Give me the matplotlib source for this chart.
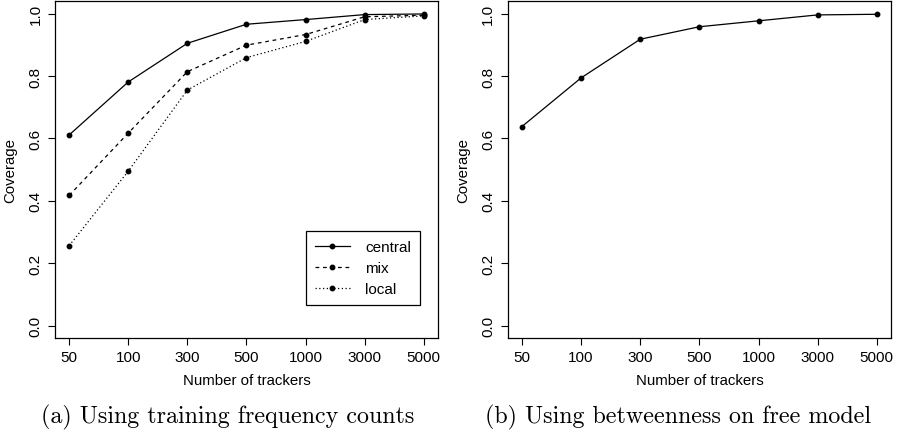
import matplotlib
matplotlib.use("Agg")
import matplotlib.pyplot as plt
import numpy as np

# values
trackers = ["50", "100", "300", "500", "1000", "3000", "5000"]
central = [0.611, 0.781, 0.905, 0.966, 0.981, 0.997, 0.999]
mix = [0.417, 0.617, 0.814, 0.899, 0.933, 0.990, 0.995]
local = [0.256, 0.495, 0.755, 0.859, 0.911, 0.981, 0.993]
betweenness = [0.638, 0.794, 0.918, 0.958, 0.977, 0.996, 0.998]
yticks = [0.0, 0.2, 0.4, 0.6, 0.8, 1.0]

plt.rcParams['font.family'] = ['Liberation Sans', 'DejaVu Sans']
fig = plt.figure(figsize=(9.07, 4.35), dpi=100)

def style(ax):
    xx = np.arange(len(trackers))
    ax.set_xlim(-0.24, len(trackers) - 1 + 0.24)
    ax.set_ylim(-0.04, 1.04)
    ax.set_xticks(xx)
    ax.set_xticklabels(trackers, fontsize=11)
    ax.set_yticks(yticks)
    ax.set_yticklabels(["%.1f" % v for v in yticks], fontsize=11, rotation=90, va="center")
    ax.tick_params(direction="out", length=5, width=0.8, pad=4)
    for s in ax.spines.values():
        s.set_linewidth(0.9)
    ax.set_xlabel("Number of trackers", fontsize=10.8, labelpad=6)
    ax.set_ylabel("Coverage", fontsize=10.8, labelpad=8)
    return xx

ax1 = fig.add_axes([0.0606, 0.2207, 0.4223, 0.7743])
xx = style(ax1)
ax1.plot(xx, central, color="black", lw=0.9, ls="-", marker="o", ms=3.2, label="central")
ax1.plot(xx, mix, color="black", lw=0.9, ls=(0, (3, 3)), marker="o", ms=3.2, label="mix")
ax1.plot(xx, local, color="black", lw=0.9, ls=(0, (1, 2)), marker="o", ms=3.2, label="local")
leg = ax1.legend(loc="upper left", bbox_to_anchor=(0.6546, 0.3168), fancybox=False,
                 edgecolor="black", framealpha=1, fontsize=11, handlelength=2.3,
                 handletextpad=1.0, labelspacing=0.45, borderpad=0.6, borderaxespad=0)
leg.get_frame().set_linewidth(0.9)

ax2 = fig.add_axes([0.5598, 0.2207, 0.4226, 0.7743])
xx = style(ax2)
ax2.plot(xx, betweenness, color="black", lw=0.9, marker="o", ms=3.2)

fig.text(0.2514, 0.041, "(a) Using training frequency counts", family="cmr10",
         fontsize=17.3, ha="center", va="center")
fig.text(0.7475, 0.041, "(b) Using betweenness on free model", family="cmr10",
         fontsize=17.3, ha="center", va="center")

fig.savefig("out.png", dpi=100)
